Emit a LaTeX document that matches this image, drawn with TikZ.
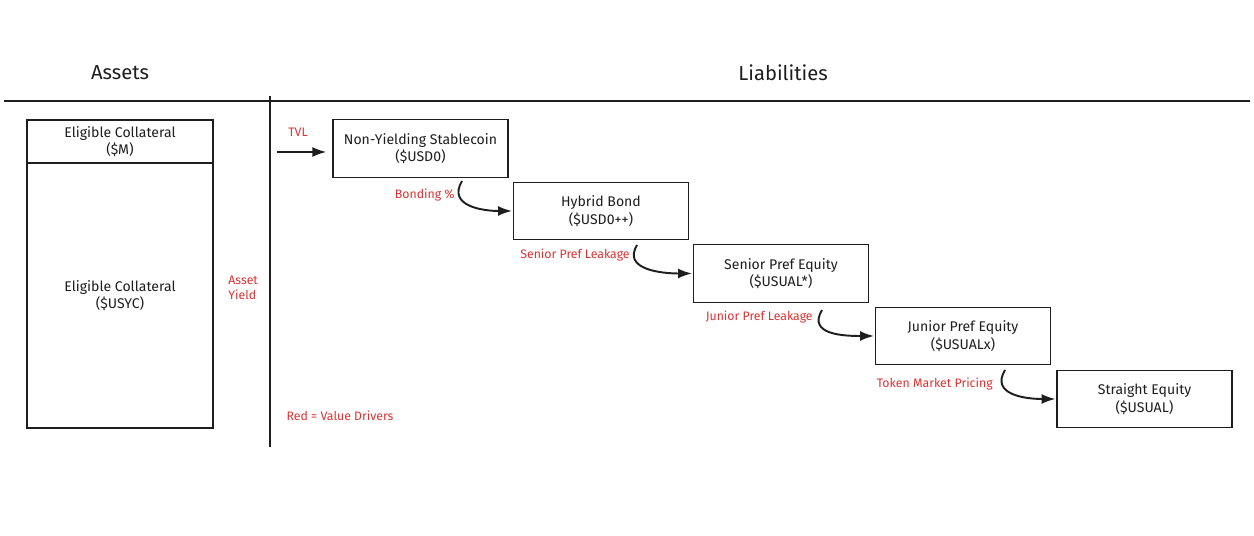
\documentclass[tikz,border=0pt]{standalone}
\usepackage{fontspec}
\setmainfont{Fira Sans}
\usepackage{xcolor}
\usepackage{tikz}
\usetikzlibrary{arrows.meta,positioning}

\definecolor{ink}{HTML}{1E1E1E}
\definecolor{valred}{HTML}{E03131}

\begin{document}
\begin{tikzpicture}[
  x=0.02cm, y=-0.02cm,
  box/.style={rectangle, draw=ink, line width=0.7pt, align=center, minimum width=3.5cm, minimum height=1.15cm, inner sep=1pt, text=ink, font=\fontsize{8}{10}\selectfont},
  colbox/.style={rectangle, draw=ink, line width=0.7pt, align=center, minimum width=3.72cm, inner sep=1pt, text=ink, font=\fontsize{8}{10}\selectfont},
  driver/.style={text=valred, inner sep=0pt, align=left, font=\fontsize{7}{8.5}\selectfont},
  heading/.style={text=ink, font=\fontsize{11.5}{14}\selectfont},
  divider/.style={draw=ink, line width=0.9pt},
  arrow/.style={-{Latex[length=2.8mm,width=2mm]}, line width=1.1pt, draw=ink, shorten >=0.5pt}
]
\useasboundingbox (0,0) rectangle (1254,536);

% headings and separators
\node[heading] (assets) at (120,73) {Assets};
\node[heading] (liab) at (783,73) {Liabilities};
\draw[divider] (4,101) -- (1250,101);
\draw[divider] (270,96) -- (270,447);

% assets column
\node[colbox, minimum height=0.86cm] (mcoll) at (120,141.5) {Eligible Collateral\\(\$M)};
\node[colbox, minimum height=5.3cm] (usyc) at (120,295.5) {Eligible Collateral\\(\$USYC)};
\node[driver, anchor=west] (yield) at (228,288) {Asset\\Yield};

% liabilities staircase
\node[box] (stable) at (420.5,148.5) {Non-Yielding Stablecoin\\(\$USD0)};
\node[box] (hybrid) at (601,211) {Hybrid Bond\\(\$USD0++)};
\node[box] (senior) at (781,273.5) {Senior Pref Equity\\(\$USUAL*)};
\node[box] (junior) at (963,336) {Junior Pref Equity\\(\$USUALx)};
\node[box] (straight) at (1144.5,399) {Straight Equity\\(\$USUAL)};

% value drivers
\node[driver] (tvl) at (298,132) {TVL};
\node[driver, anchor=east] (bonding) at (455,195) {Bonding \%};
\node[driver, anchor=east] (seniorleak) at (630,255) {Senior Pref Leakage};
\node[driver, anchor=east] (juniorleak) at (813,317) {Junior Pref Leakage};
\node[driver, anchor=east] (pricing) at (993,384) {Token Market Pricing};
\node[driver] (legend) at (340,416) {Red = Value Drivers};

\coordinate (tvlstart) at (277,152);
\coordinate (bondstart) at (462,181);
\coordinate (seniorstart) at (637,245);
\coordinate (juniorstart) at (822,310);
\coordinate (pricestart) at (1005,370);

\draw[arrow, shorten >=1.2mm] (tvlstart) -- (tvlstart -| stable.west);
\draw[arrow] (bondstart) .. controls +(-0.3cm,-0.5cm) and +(-0.6cm,0) .. (hybrid.west);
\draw[arrow] (seniorstart) .. controls +(-0.3cm,-0.5cm) and +(-0.6cm,0) .. (senior.west);
\draw[arrow] (juniorstart) .. controls +(-0.3cm,-0.5cm) and +(-0.6cm,0) .. (junior.west);
\draw[arrow] (pricestart) .. controls +(-0.3cm,-0.5cm) and +(-0.6cm,0) .. (straight.west);
\end{tikzpicture}
\end{document}
